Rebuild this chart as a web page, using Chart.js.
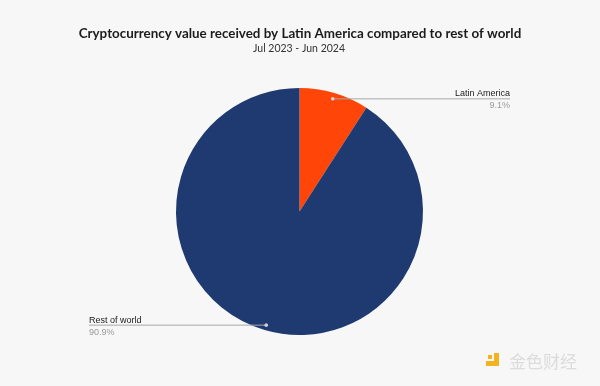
<!DOCTYPE html>
<html>
<head>
<meta charset="utf-8">
<script src="https://cdn.jsdelivr.net/npm/chart.js@4"></script>
<style>
  html, body { margin: 0; padding: 0; background: #f7f7f7; }
  canvas { display: block; }
</style>
</head>
<body>
<canvas id="pieChart" width="600" height="386"></canvas>
<script>
const titleText = 'Cryptocurrency value received by Latin America compared to rest of world';
const subtitleText = 'Jul 2023 - Jun 2024';
const categories = ['Latin America', 'Rest of world'];
const shares = [9.1, 90.9];
const sliceColors = ['#ff4507', '#1f3a70'];
const watermark = '金色财经';

// titles, background, leader-line labels and the watermark
const decorPlugin = {
  id: 'decor',
  beforeDraw(chart) {
    const ctx = chart.ctx;
    ctx.save();
    ctx.fillStyle = '#f7f7f7';
    ctx.fillRect(0, 0, chart.width, chart.height);
    ctx.restore();
  },
  afterDraw(chart) {
    const ctx = chart.ctx;
    ctx.save();
    ctx.textAlign = 'center';
    ctx.fillStyle = '#1c1c1c';
    ctx.font = 'bold 13.4px Lato';
    ctx.fillText(titleText, 300, 38);
    ctx.fillStyle = '#333';
    ctx.font = '10.5px Lato';
    ctx.fillText(subtitleText, 299, 52);

    const meta = chart.getDatasetMeta(0);
    meta.data.forEach((arc, i) => {
      const { x, y, startAngle, endAngle, outerRadius } = arc.getProps(['x', 'y', 'startAngle', 'endAngle', 'outerRadius'], true);
      const mid = (startAngle + endAngle) / 2;
      const px = x + Math.cos(mid) * outerRadius * 0.955;
      const py = y + Math.sin(mid) * outerRadius * 0.955;
      const right = Math.cos(mid) >= 0;
      const endX = right ? 510 : 89;

      ctx.strokeStyle = '#a8a8a8';
      ctx.lineWidth = 1;
      ctx.beginPath();
      ctx.moveTo(px, py + 0.5);
      ctx.lineTo(endX, py + 0.5);
      ctx.stroke();

      ctx.fillStyle = '#d0d0d0';
      ctx.beginPath();
      ctx.arc(px, py + 0.5, 1.8, 0, Math.PI * 2);
      ctx.fill();

      ctx.textAlign = right ? 'right' : 'left';
      ctx.font = '9px "Liberation Sans"';
      ctx.fillStyle = '#1a1a1a';
      ctx.textBaseline = 'alphabetic';
      ctx.fillText(categories[i], endX, py - 2);
      ctx.fillStyle = '#9a9a9a';
      ctx.textBaseline = 'top';
      ctx.fillText(shares[i].toFixed(1) + '%', endX, py + 3);
    });

    // watermark
    ctx.textBaseline = 'alphabetic';
    ctx.fillStyle = '#f2b31f';
    ctx.fillRect(488, 355, 4, 4);
    ctx.fillRect(494, 353, 5, 13);
    ctx.fillRect(486, 361, 13, 5);
    ctx.textAlign = 'left';
    ctx.font = '17px "Noto Sans CJK SC"';
    ctx.fillStyle = '#dcdcdc';
    ctx.fillText(watermark, 509, 368);
    ctx.restore();
  }
};

new Chart(document.getElementById('pieChart'), {
  type: 'pie',
  data: {
    labels: categories,
    datasets: [{
      data: shares,
      backgroundColor: sliceColors,
      borderWidth: 0
    }]
  },
  options: {
    responsive: false,
    devicePixelRatio: 1,
    animation: false,
    layout: { padding: { top: 88, bottom: 51, left: 0, right: 1 } },
    plugins: {
      legend: { display: false },
      tooltip: { enabled: false },
      title: { display: false }
    }
  },
  plugins: [decorPlugin]
});
</script>
</body>
</html>
